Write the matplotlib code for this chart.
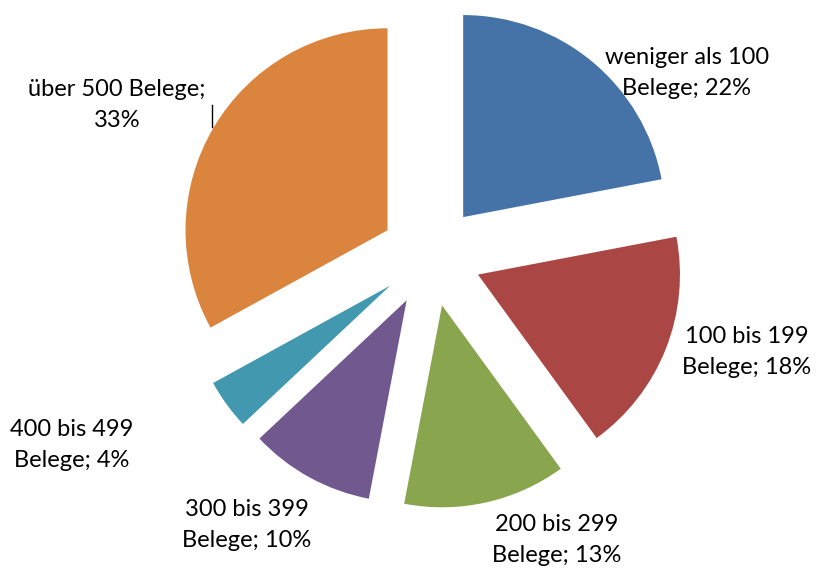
import matplotlib
matplotlib.use("Agg")
import matplotlib.pyplot as plt

# Anteile der Belege
kategorien = ["weniger als 100\nBelege; 22%", "100 bis 199\nBelege; 18%", "200 bis 299\nBelege; 13%",
              "300 bis 399\nBelege; 10%", "400 bis 499\nBelege; 4%", "über 500 Belege;\n33%"]
anteile = [22, 18, 13, 10, 4, 33]
farben = ["#4572A7", "#AA4643", "#89A54E", "#71588F", "#4198AF", "#DB843D"]

# Position der Beschriftungen (Datenkoordinaten, Radius = 1)
label_pos = [(1.267, 0.906), (1.564, -0.475), (0.624, -1.406),
             (-0.911, -1.332), (-1.777, -0.936), (-1.554, 0.748)]

fig = plt.figure(figsize=(8.16, 5.69), dpi=100)
ax = fig.add_axes([0, 0, 1, 1])

ax.pie(anteile, colors=farben, startangle=90, counterclock=False,
       explode=[0.25] * len(anteile), radius=1, center=(0, 0),
       wedgeprops=dict(linewidth=0))

for txt, (x, y) in zip(kategorien, label_pos):
    ax.text(x, y, txt, ha="center", va="center", fontsize=17,
            family="Lato", linespacing=1.6, color="black")

# kleine Führungslinie
ax.plot([-1.084, -1.084], [0.748, 0.639], color="black", lw=1)

ax.set_xlim(-431 / 202, (816 - 431) / 202)
ax.set_ylim(-(569 - 256) / 202, 256 / 202)
ax.set_aspect("auto")
ax.axis("off")

fig.savefig("out.png", dpi=100)
